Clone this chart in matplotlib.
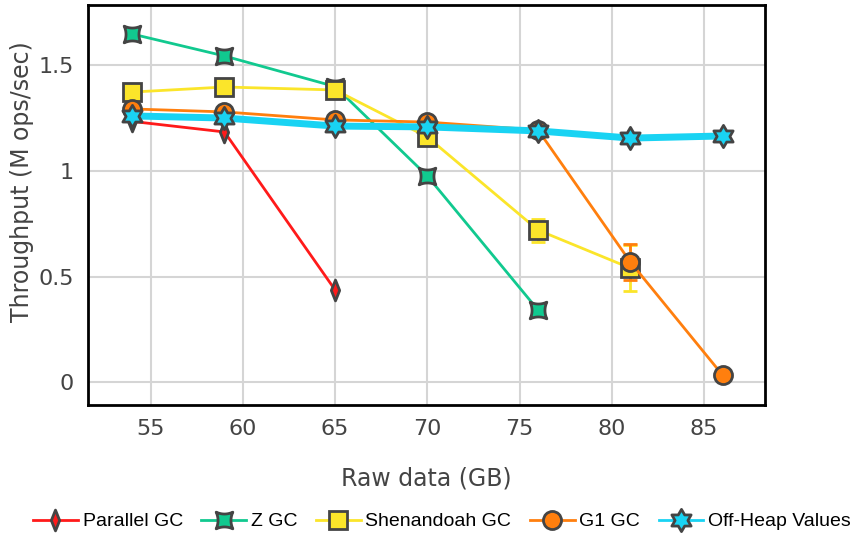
import matplotlib.pyplot as plt
from matplotlib.path import Path
from matplotlib.lines import Line2D
import numpy as np

# Dados
x_parallel = [54, 59, 65]
y_parallel = [1.235, 1.185, 0.436]

x_z = [54, 59, 65, 70, 76]
y_z = [1.649, 1.545, 1.40, 0.976, 0.341]

x_shen = [54, 59, 65, 70, 76, 81]
y_shen = [1.374, 1.398, 1.384, 1.161, 0.72, 0.54]
err_shen = [0, 0, 0, 0, 0.055, 0.11]

x_g1 = [54, 59, 65, 70, 76, 81, 86]
y_g1 = [1.294, 1.28, 1.242, 1.232, 1.194, 0.569, 0.033]
err_g1 = [0, 0, 0, 0, 0, 0.085, 0]

x_offheap = [54, 59, 65, 70, 76, 81, 86]
y_offheap = [1.261, 1.251, 1.213, 1.209, 1.19, 1.156, 1.166]

x_ticks = [55, 60, 65, 70, 75, 80, 85]
y_ticks = [0, 0.5, 1, 1.5]
y_ticklabels = ['0', '0.5', '1', '1.5']

labels = ['Parallel GC', 'Z GC', 'Shenandoah GC', 'G1 GC', 'Off-Heap Values']
colors = ['#ff1a1a', '#11c98f', '#fbe52a', '#ff7f0e', '#19d3f3']

# Marcadores no estilo plotly
diamond_tall = Path([(0, 1), (0.4, 0), (0, -1), (-0.4, 0), (0, 1)],
                    [Path.MOVETO, Path.LINETO, Path.LINETO, Path.LINETO, Path.CLOSEPOLY])

def star_square():
    pts = []
    corners = [(-1, -1), (1, -1), (1, 1), (-1, 1)]
    for i in range(4):
        a = np.array(corners[i])
        b = np.array(corners[(i + 1) % 4])
        mid = (a + b) / 2 * 0.55
        for t in np.linspace(0, 1, 10, endpoint=False):
            p = (1 - t) ** 2 * a + 2 * (1 - t) * t * mid + t ** 2 * b
            pts.append(tuple(p))
    pts.append(pts[0])
    return Path(pts, closed=True)

def hexagram():
    pts = []
    for k in range(12):
        ang = np.pi / 2 + k * np.pi / 6
        r = 1 if k % 2 == 0 else 1 / np.sqrt(3)
        pts.append((r * np.cos(ang), r * np.sin(ang)))
    pts.append(pts[0])
    return Path(pts, closed=True)

markers = [diamond_tall, star_square(), 's', 'o', hexagram()]
msizes = [15, 12, 13, 13, 16]
edge = '#444444'

fig = plt.figure(figsize=(8.5, 5.33), dpi=100)
ax = fig.add_axes([0.1035, 0.24, 0.7965, 0.75])

ax.plot(x_parallel, y_parallel, color=colors[0], lw=2, marker=markers[0],
        markersize=msizes[0], markerfacecolor=colors[0], markeredgecolor=edge,
        markeredgewidth=2, zorder=3)
ax.plot(x_z, y_z, color=colors[1], lw=2, marker=markers[1],
        markersize=msizes[1], markerfacecolor=colors[1], markeredgecolor=edge,
        markeredgewidth=2, zorder=3)
ax.errorbar(x_shen, y_shen, yerr=err_shen, color=colors[2], ecolor=colors[2],
            elinewidth=2, capsize=5, capthick=2, lw=2, marker=markers[2],
            markersize=msizes[2], markerfacecolor=colors[2], markeredgecolor=edge,
            markeredgewidth=2, zorder=3)
ax.errorbar(x_g1, y_g1, yerr=err_g1, color=colors[3], ecolor=colors[3],
            elinewidth=2, capsize=5, capthick=2, lw=2, marker=markers[3],
            markersize=msizes[3], markerfacecolor=colors[3], markeredgecolor=edge,
            markeredgewidth=2, zorder=3)
ax.plot(x_offheap, y_offheap, color=colors[4], lw=5, marker=markers[4],
        markersize=msizes[4], markerfacecolor=colors[4], markeredgecolor=edge,
        markeredgewidth=2, zorder=4)

ax.set_xlim(51.6, 88.3)
ax.set_ylim(-0.109, 1.785)
ax.set_xticks(x_ticks)
ax.set_yticks(y_ticks)
ax.set_yticklabels(y_ticklabels)
ax.tick_params(length=0, labelsize=16, colors='#444444', pad=10)
ax.grid(True, color='#d5d5d5', lw=1.5)
ax.set_axisbelow(True)
for s in ax.spines.values():
    s.set_linewidth(2)
    s.set_color('black')

ax.set_xlabel('Raw data (GB)', fontsize=17, color='#444444', labelpad=20)
ax.set_ylabel('Throughput (M ops/sec)', fontsize=17, color='#444444')
ax.yaxis.set_label_coords(-0.08, 0.56)

# Legenda com linhas finas
handles = [Line2D([], [], color=c, lw=2, marker=m, markersize=ms,
                  markerfacecolor=c, markeredgecolor=edge, markeredgewidth=2)
           for c, m, ms in zip(colors, markers, msizes)]
fig.legend(handles, labels, loc='lower center', ncol=5, frameon=False,
           bbox_to_anchor=(0.52, -0.028), prop={'family': 'Liberation Sans', 'size': 14},
           handlelength=2.3, columnspacing=0.95, handletextpad=0.25)

plt.savefig('out.png', dpi=100)
